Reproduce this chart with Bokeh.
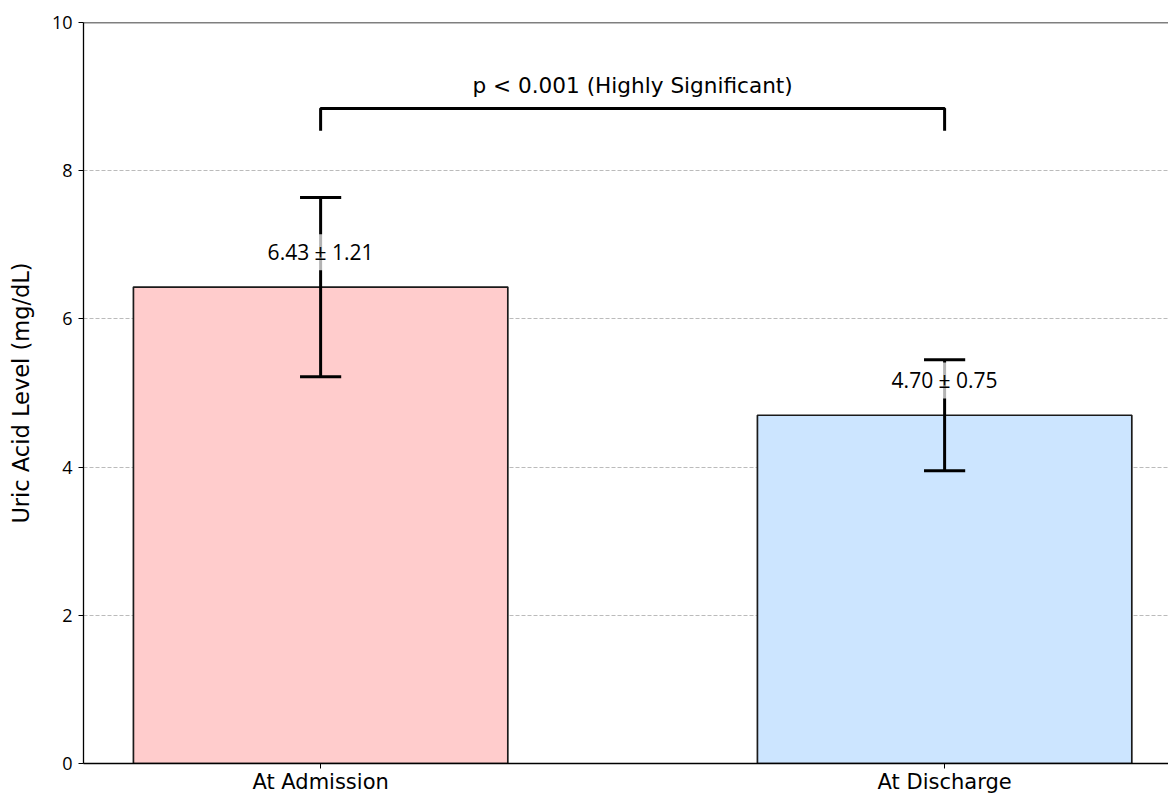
from bokeh.plotting import figure
from bokeh.models import ColumnDataSource, FixedTicker, Span
from bokeh.core.properties import value
from bokeh.embed import file_html
from bokeh.resources import INLINE

categories = ["At Admission", "At Discharge"]
means = [6.43, 4.70]
sds = [1.21, 0.75]
bar_colors = ["#ffcccc", "#cce5ff"]
y_ticks = [0, 2, 4, 6, 8, 10]
p_label = "p < 0.001 (Highly Significant)"
y_label = "Uric Acid Level (mg/dL)"

NUM_FONT = "Open Sans"
TXT_FONT = "DejaVu Sans"

x = list(range(len(categories)))
upper = [m + s for m, s in zip(means, sds)]
lower = [m - s for m, s in zip(means, sds)]
cap = 0.033
src = ColumnDataSource(dict(
    x=x, top=means, color=bar_colors, upper=upper, lower=lower,
    cl=[v - cap for v in x], cr=[v + cap for v in x],
    label=[f"{m:.2f} \u00b1 {s:.2f}" for m, s in zip(means, sds)],
    label_y=[m + 0.47 for m in means],
))

p = figure(width=1168, height=796, x_range=(-0.38, 1.3588), y_range=(0, 10),
           output_backend="svg", toolbar_location=None,
           min_border_left=83, min_border_top=22, min_border_right=0,
           min_border_bottom=31)
p.outline_line_color = None

p.vbar(x="x", top="top", bottom=0, width=0.6, fill_color="color",
       line_color="#1a1a1a", line_width=1.7, source=src)
p.segment(x0="x", y0="lower", x1="x", y1="upper", line_color="black",
          line_width=3, source=src)
p.segment(x0="cl", y0="upper", x1="cr", y1="upper", line_color="black",
          line_width=3, source=src)
p.segment(x0="cl", y0="lower", x1="cr", y1="lower", line_color="black",
          line_width=3, source=src)
p.text(x="x", y="label_y", text="label", text_align="center",
       text_baseline="middle", text_font=value(NUM_FONT),
       text_font_size="21px", text_color="black",
       background_fill_color="white", background_fill_alpha=0.7,
       padding=4, source=src)

b_top = max(upper) + 1.2
b_leg = b_top - 0.3
p.line(x=[x[0], x[0], x[1], x[1]], y=[b_leg, b_top, b_top, b_leg],
       line_color="black", line_width=3)
p.text(x=[(x[0] + x[1]) / 2], y=[b_top + 0.14], text=[p_label],
       text_align="center", text_baseline="bottom", text_font=value(TXT_FONT),
       text_font_size="21.6px", text_color="black")

p.add_layout(Span(location=10, dimension="width", line_color="black",
                  line_width=1.5))

p.xgrid.visible = False
p.ygrid.grid_line_color = "#bbbbbb"
p.ygrid.grid_line_dash = "4 2"
p.ygrid.grid_line_width = 1

p.yaxis.ticker = FixedTicker(ticks=y_ticks)
p.xaxis.ticker = FixedTicker(ticks=x)
p.xaxis.major_label_overrides = {i: c for i, c in zip(x, categories)}
p.yaxis.axis_label = y_label

for ax in (p.xaxis, p.yaxis):
    ax.axis_line_color = "black"
    ax.axis_line_width = 1.3
    ax.major_tick_line_color = "black"
    ax.major_tick_out = 5
    ax.major_tick_in = 0
    ax.minor_tick_line_color = None
    ax.major_label_text_color = "black"
p.yaxis.major_label_text_font = NUM_FONT
p.yaxis.major_label_text_font_size = "18px"
p.yaxis.major_label_standoff = 6
p.xaxis.major_label_text_font = TXT_FONT
p.xaxis.major_label_text_font_size = "21px"
p.xaxis.major_label_standoff = 1
p.yaxis.axis_label_text_font = TXT_FONT
p.yaxis.axis_label_text_font_size = "22.5px"
p.yaxis.axis_label_text_font_style = "normal"
p.yaxis.axis_label_text_color = "black"
p.yaxis.axis_label_standoff = 15

open("out.html", "w").write(file_html(p, INLINE))
